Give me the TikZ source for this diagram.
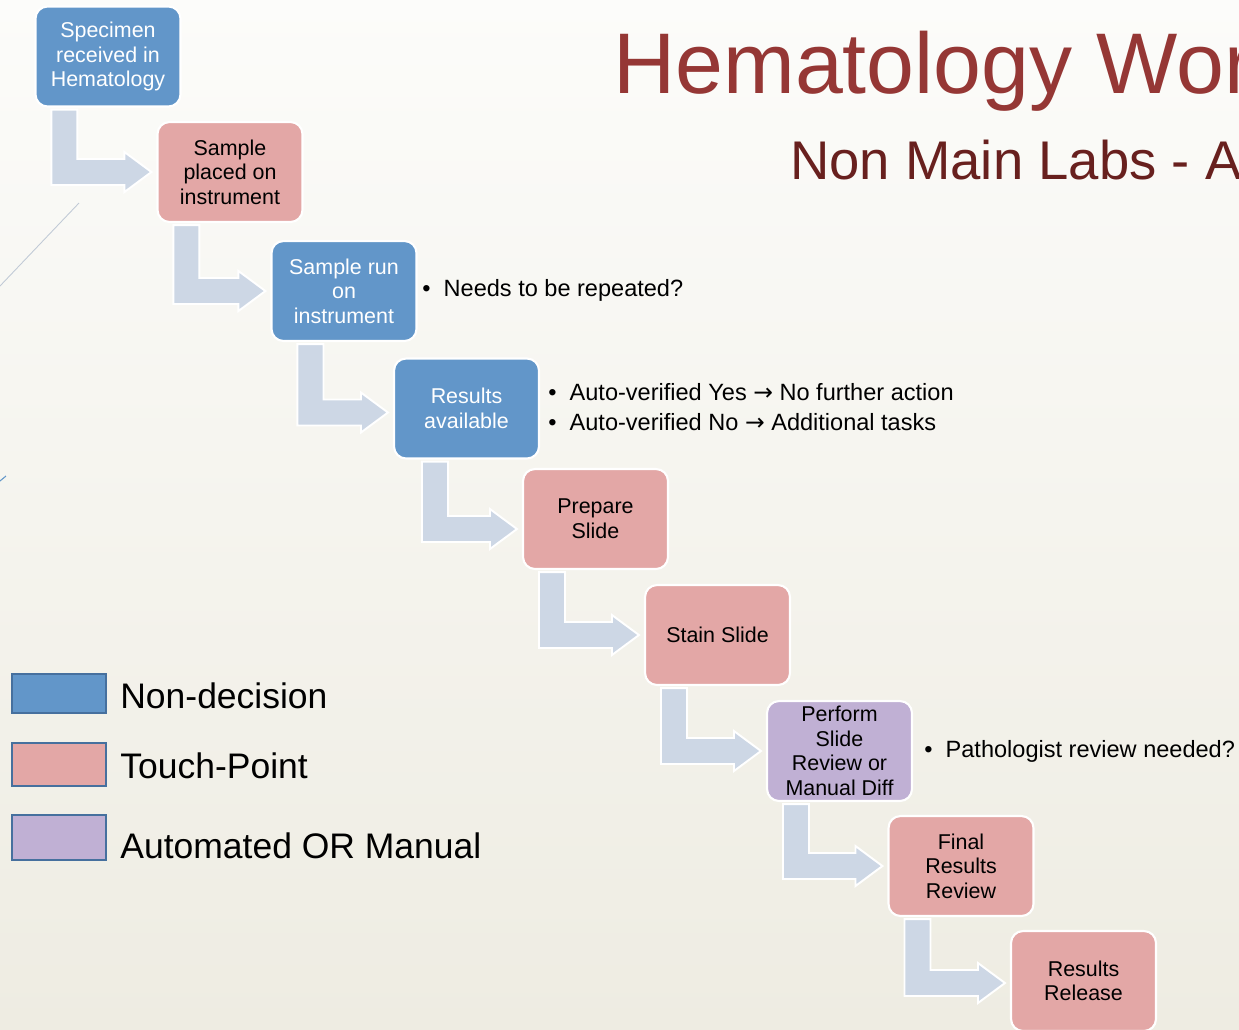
\documentclass[tikz,border=0pt]{standalone}
\usepackage{fontspec}
\setmainfont{Liberation Sans}
\newfontfamily\arrowfont{DejaVu Sans}
\usetikzlibrary{calc}

\definecolor{nondec}{RGB}{98,150,201}
\definecolor{touch}{RGB}{227,167,166}
\definecolor{automan}{RGB}{192,176,212}
\definecolor{stepfill}{RGB}{205,215,229}
\definecolor{legendline}{RGB}{70,112,158}
\definecolor{titlered}{RGB}{149,55,53}
\definecolor{subred}{RGB}{104,32,30}

\newcommand{\then}{{\arrowfont →}}

\begin{document}
\begin{tikzpicture}[
            x=0.02cm, y=-0.02cm, % one unit = one pixel, y down
            flowbox/.style={draw=white, line width=1.2pt, rounded corners=0.24cm,
              minimum width=2.9cm, minimum height=2cm, align=center,
              inner sep=0pt, font=\fontsize{12.2}{14}\selectfont},
            nondecision/.style={flowbox, fill=nondec, text=white},
            touchpoint/.style={flowbox, fill=touch},
            automanual/.style={flowbox, fill=automan},
            legendbox/.style={draw=legendline, line width=1.2pt,
              minimum width=1.88cm, inner sep=0pt},
            legendtext/.style={anchor=base west, inner sep=0pt,
              font=\fontsize{20.2}{24}\selectfont},
            note/.style={anchor=base west, inner sep=0pt,
              font=\fontsize{13.4}{17}\selectfont},
            bentarrow/.style={fill=stepfill, draw=white, line width=1.1pt}
            ]
            % background
            \clip (0,0) rectangle (1239,1029);
            \shade[top color={rgb,255:red,252;green,252;blue,250},
              bottom color={rgb,255:red,238;green,236;blue,226}]
              (0,0) rectangle (1239,1029);
            \draw[stepfill!85!gray, line width=0.5pt] (79,203) -- (0,286);
            \draw[nondec, line width=0.6pt] (0,481) -- (6,476);

            % title
            \node[anchor=base west, inner sep=0pt, text=titlered,
              font=\fontsize{49}{52}\selectfont] (title) at (613,93) {Hematology Wor};
            \node[anchor=base west, inner sep=0pt, text=subred,
              font=\fontsize{31}{34}\selectfont] (subtitle) at (790,179) {Non Main Labs - A};

            % steps
            \node[nondecision] (spec) at (108,56.5) {Specimen\\received in\\Hematology};
            \node[touchpoint] (place) at (230,172) {Sample\\placed on\\instrument};
            \node[nondecision] (run) at (344,291) {Sample run\\on\\instrument};
            \node[nondecision] (avail) at (466.5,408.5) {Results\\available};
            \node[touchpoint] (prep) at (595.5,519) {Prepare\\Slide};
            \node[touchpoint] (stain) at (717.5,635) {Stain Slide};
            \node[automanual] (perf) at (839.5,751) {Perform\\Slide\\Review or\\Manual Diff};
            \node[touchpoint] (final) at (961,866) {Final\\Results\\Review};
            \node[touchpoint] (rel) at (1083.5,981) {Results\\Release};

            % bent arrows between steps
            \foreach \a/\b/\sx/\ty in {spec/place/17/0, place/run/17/0,
              run/avail/27/4, avail/prep/29/10, prep/stain/17/0,
              stain/perf/17/0, perf/final/17/0, final/rel/17/2} {
              \coordinate (s1) at ($(\a.south west)+(\sx,2)$);
              \coordinate (tip) at ($(\b.west)+(-5,\ty)$);
              \coordinate (bb) at ($(tip)+(-27,13)$);
              \filldraw[bentarrow] (s1) -- ++(26,0) |- ($(tip)+(-27,-13)$)
                -- ++(0,-7) -- (tip) -- ($(tip)+(-27,20)$) -- (bb)
                -- (s1 |- bb) -- cycle;
            }

            % notes
            \node[note] (repeat) at (422,296) {•\ \ Needs to be repeated?};
            \node[note] (autoyes) at (548,400) {•\ \ Auto-verified Yes \then{} No further action};
            \node[note] (autono) at (548,430) {•\ \ Auto-verified No \then{} Additional tasks};
            \node[note] (patho) at (924,757) {•\ \ Pathologist review needed?};

            % legend
            \node[legendbox, fill=nondec, minimum height=0.78cm] (legnd) at (59,693.5) {};
            \node[legendbox, fill=touch, minimum height=0.86cm] (legtp) at (59,764.5) {};
            \node[legendbox, fill=automan, minimum height=0.9cm] (legam) at (59,837.5) {};
            \node[legendtext] (legndtext) at (120,708) {Non-decision};
            \node[legendtext] (legtptext) at (120,778) {Touch-Point};
            \node[legendtext] (legamtext) at (120,858) {Automated OR Manual};
\end{tikzpicture}
\end{document}
